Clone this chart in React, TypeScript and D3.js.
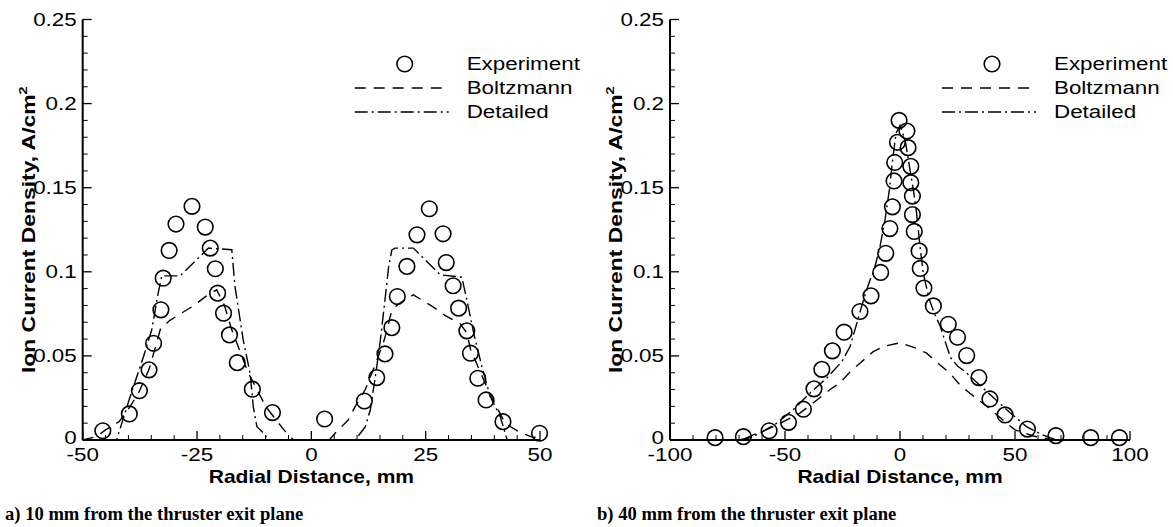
import React from "react";
import * as d3 from "d3";

// ---------- Data ----------
// Panel a) 10 mm from the thruster exit plane
const aExpX = [-45.6, -39.8, -37.6, -35.5, -34.5, -32.9, -32.4, -31.1, -29.6, -26.1, -23.2, -22.1, -21.0, -20.5, -19.2, -17.9, -16.2, -12.9, -8.5, 2.9, 11.6, 14.3, 16.1, 17.6, 18.8, 20.9, 23.1, 25.8, 28.8, 29.5, 31.0, 32.2, 34.0, 34.8, 36.4, 38.2, 41.9, 49.9];
const aExpY = [0.0055, 0.0155, 0.0293, 0.0417, 0.0575, 0.0774, 0.0962, 0.1127, 0.1284, 0.1389, 0.1266, 0.1141, 0.1018, 0.0873, 0.0754, 0.0625, 0.046, 0.0302, 0.0163, 0.0125, 0.0232, 0.0371, 0.0512, 0.0668, 0.0853, 0.1032, 0.122, 0.1375, 0.1226, 0.1055, 0.0917, 0.0784, 0.0649, 0.0516, 0.0367, 0.0238, 0.0109, 0.004];
const aBoltzX = [-50, -47, -45, -42, -39.6, -37.6, -35.5, -34, -33, -31, -29, -26, -23, -20.7, -19, -17.4, -13.8, -10, -6, -3.9, 3.9, 5.2, 8.1, 9.6, 11.8, 14, 16, 17.6, 19.1, 22.3, 26.7, 29.3, 32.6, 34, 34.8, 37, 39.1, 42, 43.5, 45.3, 48, 50];
const aBoltzY = [0, 0.002, 0.006, 0.011, 0.02, 0.029, 0.042, 0.056, 0.066, 0.071, 0.0744, 0.0794, 0.0855, 0.0893, 0.08, 0.0655, 0.04, 0.02, 0.006, 0, 0, 0.004, 0.012, 0.02, 0.03, 0.045, 0.06, 0.077, 0.081, 0.0863, 0.079, 0.074, 0.069, 0.0635, 0.054, 0.04, 0.027, 0.012, 0.008, 0.005, 0.002, 0.001];
const aDetX = [-50, -42.6, -39.6, -36.7, -34.9, -33.5, -32.7, -28.7, -22.5, -17.4, -16.7, -14.9, -13.4, -12.7, -11.9, -10.1, -9.6, 9.6, 11.8, 12.9, 14.0, 15.1, 16.1, 16.9, 17.6, 18.3, 22.3, 28.2, 32.9, 34.0, 35.5, 37.3, 39.1, 41.3, 42.4, 42.8, 50];
const aDetY = [0, 0, 0.026, 0.0496, 0.0655, 0.0873, 0.0976, 0.0976, 0.1141, 0.1131, 0.0913, 0.0595, 0.0397, 0.0198, 0.0079, 0.003, 0, 0, 0.0079, 0.018, 0.0377, 0.0595, 0.0833, 0.103, 0.113, 0.1141, 0.1141, 0.0982, 0.0968, 0.0833, 0.0635, 0.0436, 0.0258, 0.0139, 0.004, 0, 0];

// Panel b) 40 mm from the thruster exit plane
const bExpX = [-80.4, -68.1, -56.9, -48.5, -42, -37.4, -34, -29.4, -24.3, -17.4, -12.6, -8.4, -6.2, -4.4, -3.3, -2.6, -2.3, -1.1, -0.4, 3.0, 3.5, 4.7, 4.7, 5.4, 5.4, 6.2, 8.3, 8.8, 10.4, 14.5, 21, 25, 29, 34.3, 39.1, 45.7, 55.4, 67.8, 82.9, 95.4];
const bExpY = [0.0014, 0.002, 0.0055, 0.0105, 0.0183, 0.0304, 0.042, 0.053, 0.0641, 0.0764, 0.0857, 0.0996, 0.111, 0.1257, 0.1386, 0.154, 0.165, 0.177, 0.19, 0.1837, 0.1738, 0.1627, 0.153, 0.145, 0.134, 0.124, 0.1124, 0.102, 0.0903, 0.0797, 0.0688, 0.0611, 0.0502, 0.0371, 0.0244, 0.0149, 0.0065, 0.0026, 0.0014, 0.0014];
const bBoltzX = [-100, -70, -68, -64, -61, -52, -43.5, -35, -30.4, -26.1, -20.9, -17.4, -11.6, -7.2, 0, 7.2, 11.6, 17.4, 21.7, 26.1, 30.4, 37, 40.6, 46.4, 50, 57.9, 66.7, 100];
const bBoltzY = [0, 0, 0.0004, 0.003, 0.0043, 0.01, 0.016, 0.025, 0.03, 0.034, 0.0417, 0.0456, 0.0526, 0.0556, 0.0578, 0.0545, 0.0516, 0.0446, 0.0397, 0.0327, 0.0278, 0.0208, 0.0168, 0.0099, 0.006, 0.0024, 0, 0];
const bDetX = [-100, -70, -65, -60.9, -53.6, -46.4, -39.1, -31.9, -25.3, -21.7, -19.6, -17.4, -15.2, -13, -11.6, -8.7, -6.5, -4.6, -3.2, -1.7, 0, 2.2, 4.1, 5.8, 7.2, 8.7, 10.1, 12.8, 15, 17.4, 20, 22, 25, 28, 32, 40, 48, 55, 62, 68, 100];
const bDetY = [0, 0, 0.0015, 0.004, 0.01, 0.018, 0.028, 0.0367, 0.0466, 0.0556, 0.0655, 0.076, 0.0863, 0.0952, 0.0992, 0.115, 0.131, 0.149, 0.1667, 0.1825, 0.187, 0.1786, 0.1627, 0.1488, 0.135, 0.115, 0.0992, 0.0833, 0.075, 0.068, 0.057, 0.049, 0.044, 0.041, 0.036, 0.026, 0.016, 0.008, 0.003, 0, 0];

// Ticks / labels
const aXTicks = [-50, -25, 0, 25, 50];
const bXTicks = [-100, -50, 0, 50, 100];
const yTicks = [0, 0.05, 0.1, 0.15, 0.2, 0.25];
const yTickLabels = ["0", "0.05", "0.1", "0.15", "0.2", "0.25"];
const legendLabels = ["Experiment", "Boltzmann", "Detailed"];
const xTitle = "Radial Distance, mm";
const yTitle = "Ion Current Density, A/cm";
const captions = ["a) 10 mm from the thruster exit plane", "b) 40 mm from the thruster exit plane"];

const zip = (xs: number[], ys: number[]) => xs.map((x, i) => [x, ys[i]] as [number, number]);

const SANS = "'Liberation Sans', Arial, Helvetica, sans-serif";
const SERIF = "'Liberation Serif', 'Times New Roman', serif";
const SX = 1.28; // horizontal stretch of the original's sans text

type PanelProps = {
  x0: number; x1: number; domain: [number, number]; majors: number[]; minorStep: number;
  exp: [number, number][]; boltz: [number, number][]; det: [number, number][];
  caption: string; captionX: number;
};

const Y0 = 440, Y1 = 19.5;
const DASH = "11,8";
const DASHDOT = "13,4,2,4";

function Panel(p: PanelProps) {
  const xs = d3.scaleLinear().domain(p.domain).range([p.x0, p.x1]);
  const ys = d3.scaleLinear().domain([0, 0.25]).range([Y0, Y1]);
  const line = d3.line<[number, number]>().x(d => xs(d[0])).y(d => ys(d[1]));
  const xMinors = d3.range(p.domain[0], p.domain[1] + 1e-9, p.minorStep).filter(v => !p.majors.includes(v));
  const yMinors = d3.range(0, 0.2501, 0.01).filter(v => !yTicks.some(t => Math.abs(t - v) < 1e-6));
  const legX = p.x0 + 322;
  const legTextX = p.x0 + 384;
  const rows = [64, 88, 112];
  const yMid = (Y0 + Y1) / 2;
  return (
    <g>
      {/* minor ticks */}
      {xMinors.map((v, i) => (
        <line key={"xm" + i} x1={xs(v)} x2={xs(v)} y1={Y0} y2={Y0 - 5} stroke="#000" strokeWidth={1} />
      ))}
      {p.majors.map((v, i) => (
        <line key={"xM" + i} x1={xs(v)} x2={xs(v)} y1={Y0} y2={Y0 - 9} stroke="#000" strokeWidth={1.3} />
      ))}
      {yMinors.map((v, i) => (
        <line key={"ym" + i} x1={p.x0} x2={p.x0 + 5} y1={ys(v)} y2={ys(v)} stroke="#000" strokeWidth={1} />
      ))}
      {yTicks.map((v, i) => (
        <line key={"yM" + i} x1={p.x0} x2={p.x0 + 9} y1={ys(v)} y2={ys(v)} stroke="#000" strokeWidth={1.3} />
      ))}
      {/* axes */}
      <line x1={p.x0} x2={p.x1} y1={Y0} y2={Y0} stroke="#000" strokeWidth={2} />
      <line x1={p.x0} x2={p.x0} y1={Y0} y2={Y1} stroke="#000" strokeWidth={2} />

      {/* tick labels */}
      {yTicks.map((v, i) => (
        <text key={"yl" + i} transform={`translate(${p.x0 - 6},${ys(v) + (i === 0 ? 4 : 6)}) scale(${SX},1)`} textAnchor="end"
          fontFamily={SANS} fontSize={17.5}>{yTickLabels[i]}</text>
      ))}
      {p.majors.map((v, i) => (
        <text key={"xl" + i} transform={`translate(${xs(v)},${461}) scale(${SX},1)`} textAnchor="middle"
          fontFamily={SANS} fontSize={17.5}>{String(v)}</text>
      ))}

      {/* titles */}
      <text transform={`translate(${(p.x0 + p.x1) / 2},${483}) scale(1.2,1)`} textAnchor="middle"
        fontFamily={SANS} fontWeight="bold" fontSize={17.5}>{xTitle}</text>
      <text transform={`translate(${p.x0 - 48},${yMid}) rotate(-90) scale(1.31,1)`} textAnchor="middle"
        fontFamily={SANS} fontWeight="bold" fontSize={17.5}>
        {yTitle}<tspan fontSize={11} dy={-8}>2</tspan>
      </text>

      {/* curves */}
      <path d={line(p.boltz) || ""} fill="none" stroke="#000" strokeWidth={1.4} strokeDasharray={DASH} />
      <path d={line(p.det) || ""} fill="none" stroke="#000" strokeWidth={1.4} strokeDasharray={DASHDOT} />
      {p.exp.map((d, i) => (
        <circle key={"c" + i} cx={xs(d[0])} cy={ys(d[1])} r={7.8} fill="none" stroke="#000" strokeWidth={1.6} />
      ))}

      {/* legend */}
      <circle cx={legX} cy={rows[0]} r={7.8} fill="none" stroke="#000" strokeWidth={1.6} />
      <line x1={legX - 50} x2={legX + 44} y1={rows[1]} y2={rows[1]} stroke="#000" strokeWidth={1.4} strokeDasharray={DASH} />
      <line x1={legX - 50} x2={legX + 44} y1={rows[2]} y2={rows[2]} stroke="#000" strokeWidth={1.4} strokeDasharray={DASHDOT} />
      {legendLabels.map((t, i) => (
        <text key={"lg" + i} transform={`translate(${legTextX},${rows[i] + 6}) scale(${SX},1)`}
          fontFamily={SANS} fontSize={17.5}>{t}</text>
      ))}

      {/* caption */}
      <text x={p.captionX} y={520} fontFamily={SERIF} fontWeight="bold" fontSize={18.6}>{p.caption}</text>
    </g>
  );
}

export default function App() {
  return (
    <svg width={1173} height={527} style={{ position: "absolute", left: 0, top: 0, background: "#fff" }}>
      <rect width={1173} height={527} fill="#fff" />
      <Panel x0={82.7} x1={540} domain={[-50, 50]} majors={aXTicks} minorStep={5}
        exp={zip(aExpX, aExpY)} boltz={zip(aBoltzX, aBoltzY)} det={zip(aDetX, aDetY)}
        caption={captions[0]} captionX={5} />
      <Panel x0={670} x1={1130} domain={[-100, 100]} majors={bXTicks} minorStep={10}
        exp={zip(bExpX, bExpY)} boltz={zip(bBoltzX, bBoltzY)} det={zip(bDetX, bDetY)}
        caption={captions[1]} captionX={597} />
    </svg>
  );
}
